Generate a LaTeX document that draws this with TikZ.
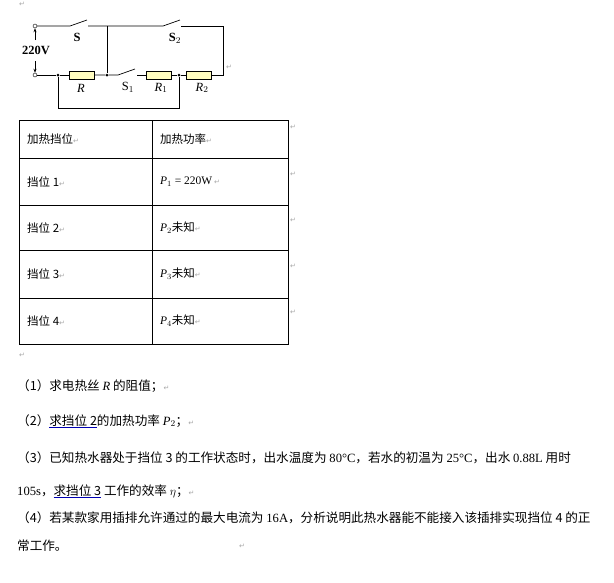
\documentclass[tikz,border=0pt]{standalone}
\usepackage{fontspec}
\setmainfont{Liberation Serif}
\newfontfamily\cjk{Noto Sans CJK SC}
\newfontfamily\dv{DejaVu Sans}
\newcommand\myul[1]{{\setbox0\hbox{#1}\rlap{\color{blue!70!black}\rule[-2.5pt]{\wd0}{0.6pt}}\box0}}
\newcommand\rt{\textcolor{gray!70}{\dv\fontsize{7}{7}\selectfont ↵}}
\usetikzlibrary{arrows.meta}
\begin{document}
\begin{tikzpicture}[x=1pt,y=-1pt,
  wire/.style={line width=0.7pt},
  res/.style={draw,fill=yellow!25,minimum width=25pt,minimum height=8pt,inner sep=0pt,line width=0.6pt},
  dotj/.style={circle,fill,inner sep=0pt,minimum size=3pt},
  term/.style={circle,draw,fill=white,inner sep=0pt,minimum size=4pt},
  lab/.style={font=\fontsize{12.5}{14}\selectfont},
  txt/.style={anchor=west,font=\fontsize{11.5}{13}\selectfont\cjk,inner sep=0pt},
  qtxt/.style={txt,font=\fontsize{12.6}{14}\selectfont\cjk},
  ret/.style={font=\fontsize{7}{7}\selectfont\dv,text=gray!70,inner sep=0pt}]
\useasboundingbox (0,0) rectangle (614,582);
% circuit
\node[term] (t1) at (35,26) {};
\node[term] (t2) at (35,75) {};
\coordinate (s0) at (70,26); \coordinate (s1) at (88,26);
\coordinate (jt) at (107,26);
\coordinate (s20) at (163,26); \coordinate (s21) at (181,26);
\coordinate (tr) at (223,26); \coordinate (br) at (223,75);
\node[dotj] (d1) at (58,75) {};
\node[res] (R) at (82,75) {};
\node[dotj] (d2) at (107,75) {};
\coordinate (a0) at (118,75); \coordinate (a1) at (137,75);
\node[res] (R1) at (159,75) {};
\node[dotj] (d3) at (179,75) {};
\node[res] (R2) at (199,75) {};
\coordinate (l1) at (58,108); \coordinate (l2) at (179,108);
\draw[wire] (t1) -- (s0) -- ++(17,-6);
\draw[wire] (s1) -- (jt) -- (s20) -- ++(17,-6);
\draw[wire] (s21) -- (tr) -- (br) -- (R2.east);
\draw[wire] (t2) -- (d1) -- (R.west);
\draw[wire] (R.east) -- (d2) -- (a0) -- ++(17,-6);
\draw[wire] (a1) -- (R1.west);
\draw[wire] (R1.east) -- (d3) -- (R2.west);
\draw[wire] (jt) -- (d2);
\draw[wire] (d1) -- (l1) -- (l2) -- (d3);
\coordinate (u0) at (35,40); \coordinate (u1) at (35,61);
\draw[-{Stealth[length=4pt]},line width=0.6pt] (u0) -- (t1);
\draw[-{Stealth[length=4pt]},line width=0.6pt] (u1) -- (t2);
\node[lab] (vl) at (36,50) {\textbf{220V}};
\node[lab] (ls) at (77,37) {\textbf{S}};
\node[lab] (ls2) at (175,38) {\textbf{S}$_2$};
\node[lab] (lr) at (81,88) {\textit{R}};
\node[lab] (ls1) at (128,87) {S$_1$};
\node[lab] (lr1) at (161,88) {\textit{R}$_1$};
\node[lab] (lr2) at (202,88) {\textit{R}$_2$};
\node[ret] (rt0) at (22,4) {↵};
\node[ret] (rt1) at (229,67) {↵};
% table
\draw[line width=0.6pt] (19,120) rectangle (288,344);
\foreach \y in {158,205,250,298} \draw[line width=0.6pt] (19,\y) -- (288,\y);
\draw[line width=0.6pt] (152,120) -- (152,344);
\node[txt] (c11) at (27,139) {加热挡位\rt};
\node[txt] (c12) at (160,139) {加热功率\rt};
\node[txt] (c21) at (27,182) {挡位 1\rt};
\node[txt] (c22) at (160,182) {\rmfamily\textit{P}$_1$ = 220W\,\rt};
\node[txt] (c31) at (27,228) {挡位 2\rt};
\node[txt] (c32) at (160,228) {{\rmfamily\textit{P}$_2$}未知\rt};
\node[txt] (c41) at (27,274) {挡位 3\rt};
\node[txt] (c42) at (160,274) {{\rmfamily\textit{P}$_3$}未知\rt};
\node[txt] (c51) at (27,321) {挡位 4\rt};
\node[txt] (c52) at (160,321) {{\rmfamily\textit{P}$_4$}未知\rt};
\foreach \y in {127,174,220,266,312} \node[ret] at (293,\y) {↵};
\node[ret] (rt2) at (22,355) {↵};
% questions
\node[qtxt] (q1) at (17,386) {（1）求电热丝 {\rmfamily\textit{R}} 的阻值；\rt};
\node[qtxt] (q2) at (17,421) {（2）\myul{求挡位 2}的加热功率 {\rmfamily\textit{P}$_2$}；\rt};
\node[qtxt] (q3) at (17,458) {（3）已知热水器处于挡位 3 的工作状态时，出水温度为 {\rmfamily 80°C}，若水的初温为 {\rmfamily 25°C}，出水 {\rmfamily 0.88L} 用时};
\node[qtxt] (q3b) at (17,491) {{\rmfamily 105s}，\myul{求挡位 3} 工作的效率 {\rmfamily$\eta$}；\rt};
\node[qtxt] (q4) at (17,518) {（4）若某款家用插排允许通过的最大电流为 {\rmfamily 16A}，分析说明此热水器能不能接入该插排实现挡位 4 的正};
\node[qtxt] (q4b) at (17,546) {常工作。};
\node[ret] (rt3) at (242,546) {↵};
\end{tikzpicture}
\end{document}
